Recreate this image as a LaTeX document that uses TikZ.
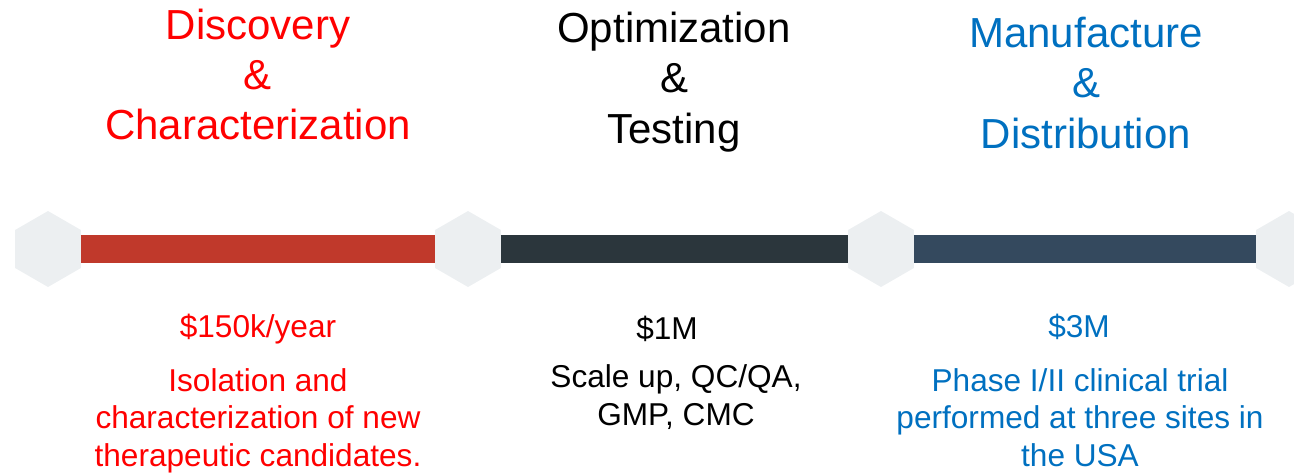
\documentclass[tikz,border=0pt]{standalone}
\usepackage{fontspec}
\setmainfont{Liberation Sans}
\usetikzlibrary{shapes.geometric}
\definecolor{discred}{HTML}{FF0000}
\definecolor{manublue}{HTML}{0070C0}
\definecolor{barred}{HTML}{C0392B}
\definecolor{bardark}{HTML}{2B363C}
\definecolor{barblue}{HTML}{34495E}
\definecolor{hexgray}{HTML}{ECEFF1}
\tikzset{hexa/.style={regular polygon,regular polygon sides=6,shape border rotate=30,
    fill=hexgray,inner sep=0pt,outer sep=0pt,minimum size=57pt}}
\tikzset{bar/.style={line width=21pt}}
\tikzset{title/.style={align=center,anchor=base,inner sep=0pt,
    font=\fontsize{31.5}{37.5}\selectfont}}
\tikzset{body/.style={align=center,anchor=base,inner sep=0pt,
    font=\fontsize{23.7}{28}\selectfont}}

\begin{document}
\begin{tikzpicture}[x=0.75pt,y=-0.75pt]
    \clip (0,0) rectangle (1294,474);
    % timeline
    \node [hexa] (h1) at (48,249) {};
    \node [hexa] (h2) at (468,249) {};
    \node [hexa] (h3) at (881,249) {};
    \node [hexa] (h4) at (1289,249) {};
    \draw [bar,barred] (h1.east) -- (h2.west);
    \draw [bar,bardark] (h2.east) -- (h3.west);
    \draw [bar,barblue] (h3.east) -- (h4.west);
    % phase titles (base = last line)
    \node [title,discred] (disc) at (258,140) {Discovery\\\&\\Characterization};
    \node [title,black] (opt) at (674,143) {Optimization\\\&\\Testing};
    \node [title,manublue] (manu) at (1086,148) {Manufacture\\\&\\Distribution};
    % costs
    \node [body,discred] (cost1) at (258,337) {\$150k/year};
    \node [body,black] (cost2) at (667,339) {\$1M};
    \node [body,manublue] (cost3) at (1079,337) {\$3M};
    % descriptions
    \node [body,discred] (desc1) at (258,466) {Isolation and\\characterization of new\\therapeutic candidates.};
    \node [body,black] (desc2) at (676,425) {Scale up, QC/QA,\\GMP, CMC};
    \node [body,manublue] (desc3) at (1080,466) {Phase I/II clinical trial\\performed at three sites in\\the USA};
\end{tikzpicture}
\end{document}
